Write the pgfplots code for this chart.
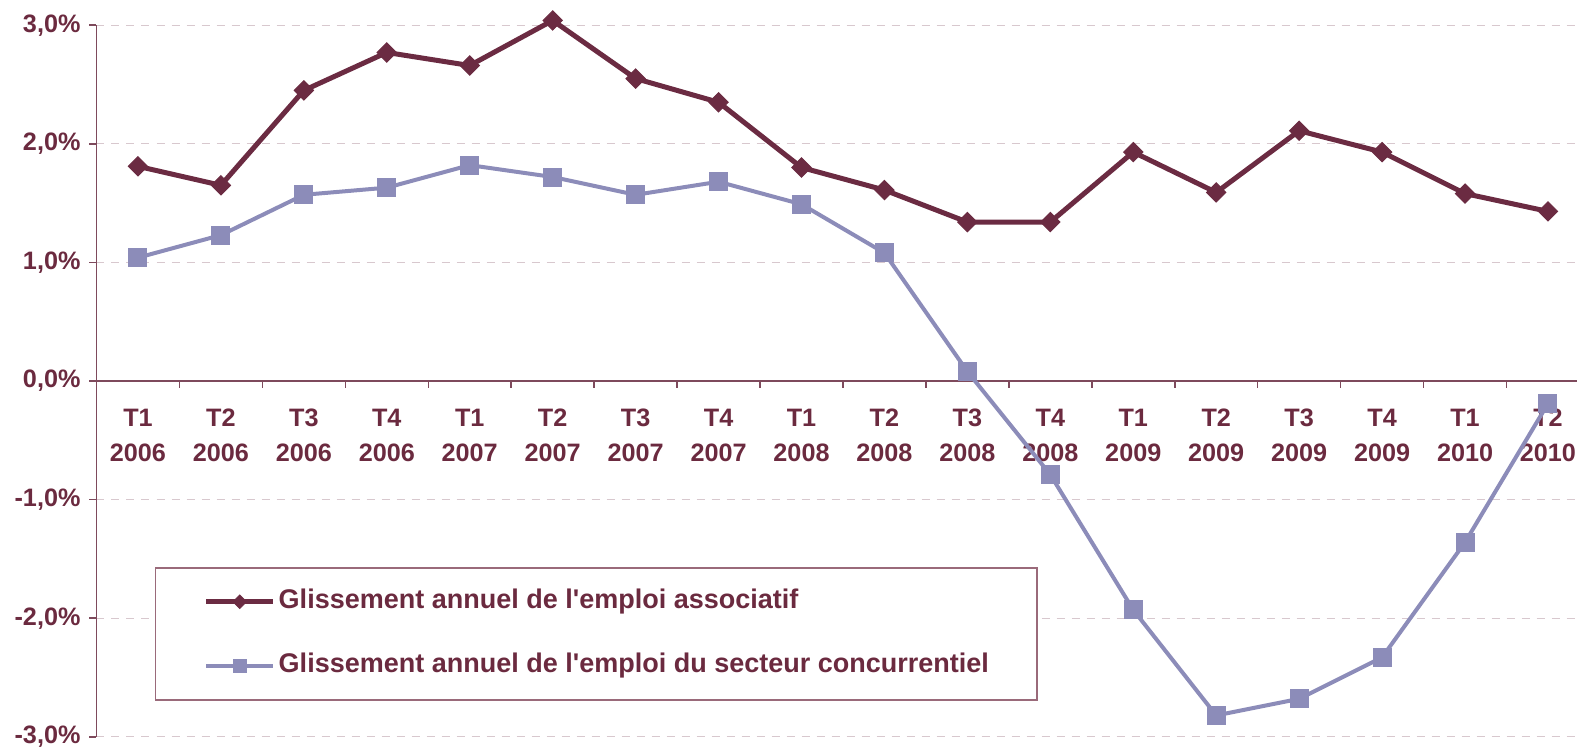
\documentclass[border=0pt]{standalone}
\usepackage{fontspec}
\setmainfont{Liberation Sans}
\usepackage{pgfplots}
\pgfplotsset{compat=1.18}
\definecolor{ink}{HTML}{6B2A3F}
\definecolor{assoc}{HTML}{6B2B42}
\definecolor{conc}{HTML}{8C8CB9}
\definecolor{gridc}{HTML}{D8C8CE}
\definecolor{axisc}{HTML}{7E4A5C}
\definecolor{legc}{HTML}{9A6A7A}

\begin{document}
\begin{tikzpicture}
\begin{axis}[
  at={(0,0)}, anchor=south west,
  scale only axis, width=740.25pt, height=355.8pt,
  xmin=-0.5, xmax=17.35, ymin=-3, ymax=3,
  clip=false,
  axis x line*=middle, axis y line*=left,
  axis line style={draw=axisc, line width=0.75pt},
  tick style={draw=axisc, line width=0.75pt},
  tick align=outside, major tick length=3.5pt,
  xtick={0.5,1.5,...,16.5}, xticklabels={},
  extra x ticks={0,...,17},
  extra x tick labels={{T1\\2006},{T2\\2006},{T3\\2006},{T4\\2006},{T1\\2007},{T2\\2007},{T3\\2007},{T4\\2007},{T1\\2008},{T2\\2008},{T3\\2008},{T4\\2008},{T1\\2009},{T2\\2009},{T3\\2009},{T4\\2009},{T1\\2010},{T2\\2010}},
  extra x tick style={major tick length=0pt},
  ytick={-3,-2,-1,0,1,2,3},
  yticklabels={{-3,0\%},{-2,0\%},{-1,0\%},{0,0\%},{1,0\%},{2,0\%},{3,0\%}},
  ymajorgrids, grid style={draw=gridc, line width=0.6pt, dash pattern=on 4pt off 3.5pt},
  tick label style={font=\bfseries\fontsize{12.6}{17.5}\selectfont, text=ink},
  xticklabel style={align=center, yshift=-10.5pt},
  yticklabel style={xshift=-1pt},
  legend style={at={(0.0395,0.2386)}, anchor=north west,
    draw=legc, line width=0.75pt, fill=white,
    inner xsep=24pt, inner ysep=10.5pt, row sep=19pt,
    font=\bfseries\fontsize{13.5}{16}\selectfont, text=ink,
    nodes={inner sep=0pt, text height=10pt, text depth=3pt}},
  legend cell align=left,
  legend image code/.code={\draw[#1, every mark/.append style={scale=0.7}, mark repeat=2, mark phase=2]
    plot coordinates {(0pt,0pt) (16.75pt,0pt) (33.5pt,0pt)}; \path (35pt,0pt);},
]
\addplot[assoc, line width=2.5pt, mark=square*, mark size=3.4pt,
  mark options={rotate=45, solid, fill=assoc, draw=assoc, line width=0.5pt}]
  coordinates {(0,1.81) (1,1.65) (2,2.45) (3,2.77) (4,2.66) (5,3.04) (6,2.55) (7,2.35) (8,1.80)
    (9,1.61) (10,1.34) (11,1.34) (12,1.93) (13,1.59) (14,2.11) (15,1.93) (16,1.58) (17,1.43)};
\addlegendentry{Glissement annuel de l\textquotesingle emploi associatif}
\addplot[conc, line width=2pt, mark=square*, mark size=4.5pt,
  mark options={solid, fill=conc, draw=conc, line width=0.5pt}]
  coordinates {(0,1.04) (1,1.23) (2,1.57) (3,1.63) (4,1.82) (5,1.72) (6,1.57) (7,1.68) (8,1.49)
    (9,1.08) (10,0.08) (11,-0.79) (12,-1.93) (13,-2.82) (14,-2.68) (15,-2.33) (16,-1.36) (17,-0.19)};
\addlegendentry{Glissement annuel de l\textquotesingle emploi du secteur concurrentiel}
\end{axis}
\pgfresetboundingbox
\useasboundingbox (-48.25pt,-5.1pt) rectangle (740.25pt,368.4pt);
\end{tikzpicture}
\end{document}
